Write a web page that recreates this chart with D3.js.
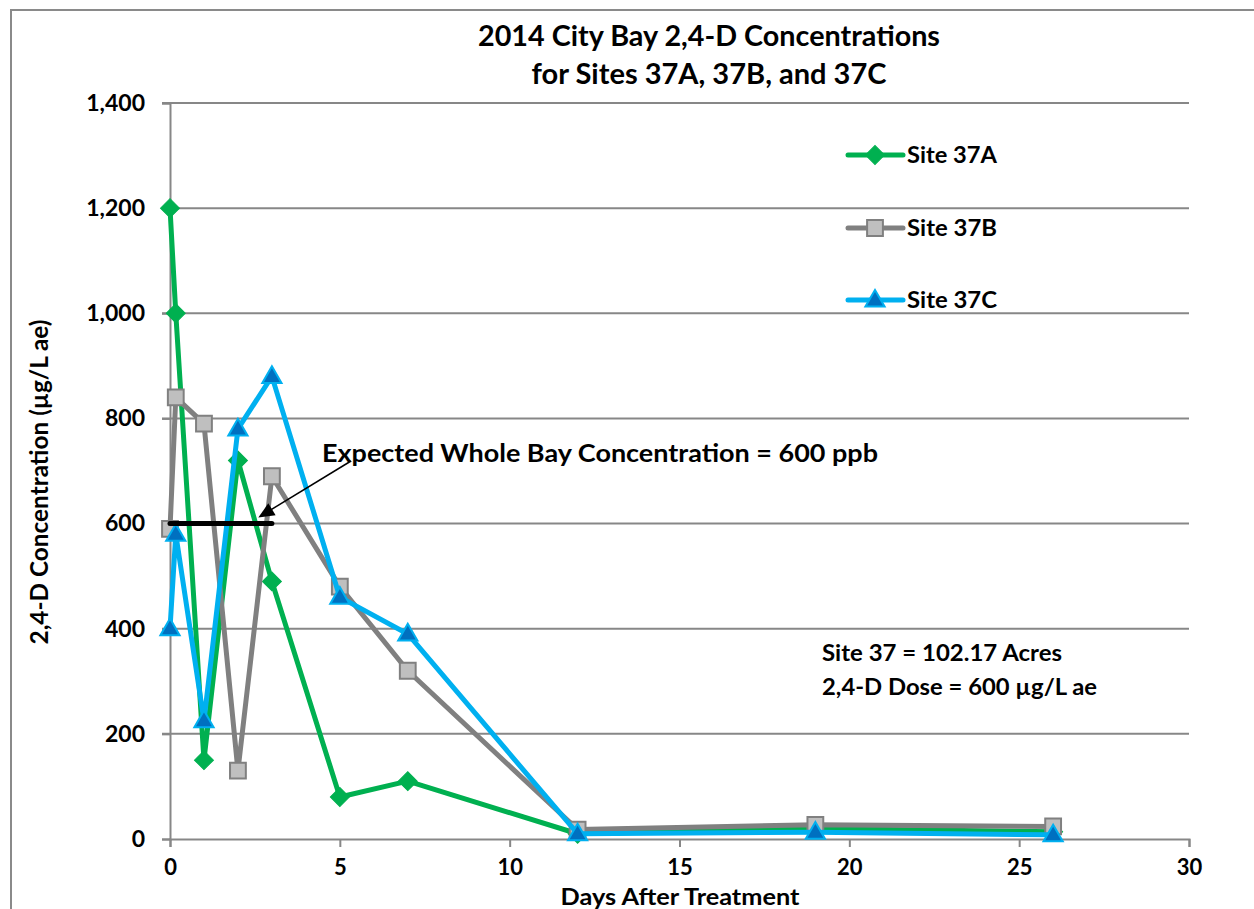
<!DOCTYPE html>
<html><head><meta charset="utf-8">
<script src="https://cdn.jsdelivr.net/npm/d3@7"></script>
<style>
body{margin:0;background:#fff;}
text{font-family:Lato,"Open Sans",sans-serif;font-weight:bold;fill:#000;}
</style>
</head><body>
<svg id="c" width="1254" height="909"></svg>
<script>
// ---- data ----
const days = [0, 0.17, 1, 2, 3, 5, 7, 12, 19, 26];
const site37A = [1200, 1000, 150, 720, 490, 80, 110, 10, 20, 14];
const site37B = [590, 840, 790, 130, 690, 480, 320, 18, 27, 24];
const site37C = [400, 580, 225, 780, 880, 460, 390, 10, 13, 8];
const seriesNames = ["Site 37A", "Site 37B", "Site 37C"];
const xTicks = [0, 5, 10, 15, 20, 25, 30];
const yTicks = [0, 200, 400, 600, 800, 1000, 1200, 1400];
const expectedValue = 600;
const expectedSpan = [0, 3];
const expectedMarkerDay = 2.6;

const svg = d3.select("#c");
const x = d3.scaleLinear().domain([0, 30]).range([170, 1189]);
const y = d3.scaleLinear().domain([0, 1400]).range([839, 103]);
const gridColor = "#878787";

// chart border
svg.append("path").attr("d", "M11,909 L11,10 L1254,10")
  .attr("fill", "none").attr("stroke", "#8a8a8a").attr("stroke-width", 2);

// title
svg.append("text").attr("x", 709).attr("y", 46).attr("text-anchor", "middle")
  .attr("font-size", 29).attr("textLength", 462).attr("lengthAdjust", "spacingAndGlyphs")
  .text("2014 City Bay 2,4-D Concentrations");
svg.append("text").attr("x", 709).attr("y", 84).attr("text-anchor", "middle")
  .attr("font-size", 29).attr("textLength", 355).attr("lengthAdjust", "spacingAndGlyphs")
  .text("for Sites 37A, 37B, and 37C");

// gridlines
svg.append("g").selectAll("line").data(yTicks.filter(d => d > 0)).join("line")
  .attr("x1", 162).attr("x2", 1189)
  .attr("y1", d => y(d)).attr("y2", d => y(d))
  .attr("stroke", gridColor).attr("stroke-width", 2);

// y axis
const yAxis = svg.append("g").attr("transform", `translate(${x(0)},0)`)
  .call(d3.axisLeft(y).tickValues(yTicks).tickSize(8).tickPadding(17).tickFormat(d3.format(",")));
yAxis.select(".domain").attr("stroke", gridColor).attr("stroke-width", 2);
yAxis.selectAll(".tick line").attr("stroke", gridColor).attr("stroke-width", 2);
yAxis.selectAll("text").attr("font-size", 23).attr("font-family", "Lato").attr("font-weight", "bold").attr("fill", "#000");

// x axis
const xAxis = svg.append("g").attr("transform", `translate(0,${y(0)})`)
  .call(d3.axisBottom(x).tickValues(xTicks).tickSize(8).tickPadding(12).tickFormat(d3.format("d")));
xAxis.select(".domain").attr("stroke", gridColor).attr("stroke-width", 2);
xAxis.selectAll(".tick line").attr("stroke", gridColor).attr("stroke-width", 2);
xAxis.selectAll("text").attr("font-size", 22).attr("font-family", "Lato").attr("font-weight", "bold").attr("fill", "#000");

// axis titles
svg.append("text").attr("transform", "translate(48,482) rotate(-90)")
  .attr("text-anchor", "middle").attr("font-size", 24)
  .attr("textLength", 325).attr("lengthAdjust", "spacingAndGlyphs")
  .text("2,4-D Concentration (µg/L ae)");
svg.append("text").attr("x", 680).attr("y", 905).attr("text-anchor", "middle")
  .attr("font-size", 23).attr("textLength", 239).attr("lengthAdjust", "spacingAndGlyphs")
  .text("Days After Treatment");

// series
const styles = [
  {line: "#00B050", fill: "#00B050", stroke: "#00B050", sym: "diamond"},
  {line: "#808080", fill: "#BFBFBF", stroke: "#808080", sym: "square"},
  {line: "#00B0F0", fill: "#0070C0", stroke: "#00B0F0", sym: "triangle"}
];
function marker(g, sym, st, cx, cy) {
  if (sym === "diamond") {
    g.append("path").attr("d", d3.symbol(d3.symbolSquare, 180)())
      .attr("transform", `translate(${cx},${cy}) rotate(45)`)
      .attr("fill", st.fill).attr("stroke", st.stroke).attr("stroke-width", 1);
  } else if (sym === "square") {
    g.append("path").attr("d", d3.symbol(d3.symbolSquare, 250)())
      .attr("transform", `translate(${cx},${cy})`)
      .attr("fill", st.fill).attr("stroke", st.stroke).attr("stroke-width", 2);
  } else {
    g.append("path").attr("d", d3.symbol(d3.symbolTriangle, 160)())
      .attr("transform", `translate(${cx},${cy + 1})`)
      .attr("fill", st.fill).attr("stroke", st.stroke).attr("stroke-width", 2);
  }
}
const allSeries = [site37A, site37B, site37C];
const lineGen = d3.line().x(d => x(d[0])).y(d => y(d[1]));
allSeries.forEach((vals, i) => {
  const st = styles[i];
  const pts = days.map((d, j) => [d, vals[j]]);
  const g = svg.append("g");
  g.append("path").datum(pts).attr("d", lineGen)
    .attr("fill", "none").attr("stroke", st.line).attr("stroke-width", 5)
    .attr("stroke-linejoin", "round").attr("stroke-linecap", "round");
  pts.forEach(p => marker(g, st.sym, st, x(p[0]), y(p[1])));
});

// expected concentration annotation
svg.append("line").attr("x1", x(expectedSpan[0])).attr("x2", x(expectedSpan[1]))
  .attr("y1", y(expectedValue)).attr("y2", y(expectedValue))
  .attr("stroke", "#000").attr("stroke-width", 5).attr("stroke-linecap", "round");
const tipX = x(expectedMarkerDay), tipY = y(expectedValue) - 6;
const tailX = 351, tailY = 461;
svg.append("line").attr("x1", tailX).attr("y1", tailY).attr("x2", tipX + 8).attr("y2", tipY - 5)
  .attr("stroke", "#000").attr("stroke-width", 1.5);
const ang = Math.atan2(tipY - tailY, tipX - tailX) * 180 / Math.PI;
svg.append("path").attr("d", "M0,0 L-16,-7 L-16,7 Z")
  .attr("transform", `translate(${tipX},${tipY}) rotate(${ang})`).attr("fill", "#000");
svg.append("text").attr("x", 322).attr("y", 462).attr("font-size", 24)
  .attr("textLength", 556).attr("lengthAdjust", "spacingAndGlyphs")
  .text("Expected Whole Bay Concentration = 600 ppb");

// legend
const legendY = [155, 228, 300];
seriesNames.forEach((name, i) => {
  const st = styles[i];
  const g = svg.append("g");
  g.append("line").attr("x1", 848).attr("x2", 903).attr("y1", legendY[i]).attr("y2", legendY[i])
    .attr("stroke", st.line).attr("stroke-width", 5).attr("stroke-linecap", "round");
  marker(g, st.sym, st, 875, legendY[i]);
  g.append("text").attr("x", 907).attr("y", legendY[i] + 8).attr("font-size", 23)
    .attr("textLength", 90).attr("lengthAdjust", "spacingAndGlyphs").text(name);
});

// site notes
svg.append("text").attr("x", 822).attr("y", 661).attr("font-size", 22)
  .attr("textLength", 240).attr("lengthAdjust", "spacingAndGlyphs").text("Site 37 = 102.17 Acres");
svg.append("text").attr("x", 822).attr("y", 695).attr("font-size", 22)
  .attr("textLength", 275).attr("lengthAdjust", "spacingAndGlyphs").text("2,4-D Dose = 600 µg/L ae");
</script>
</body></html>
